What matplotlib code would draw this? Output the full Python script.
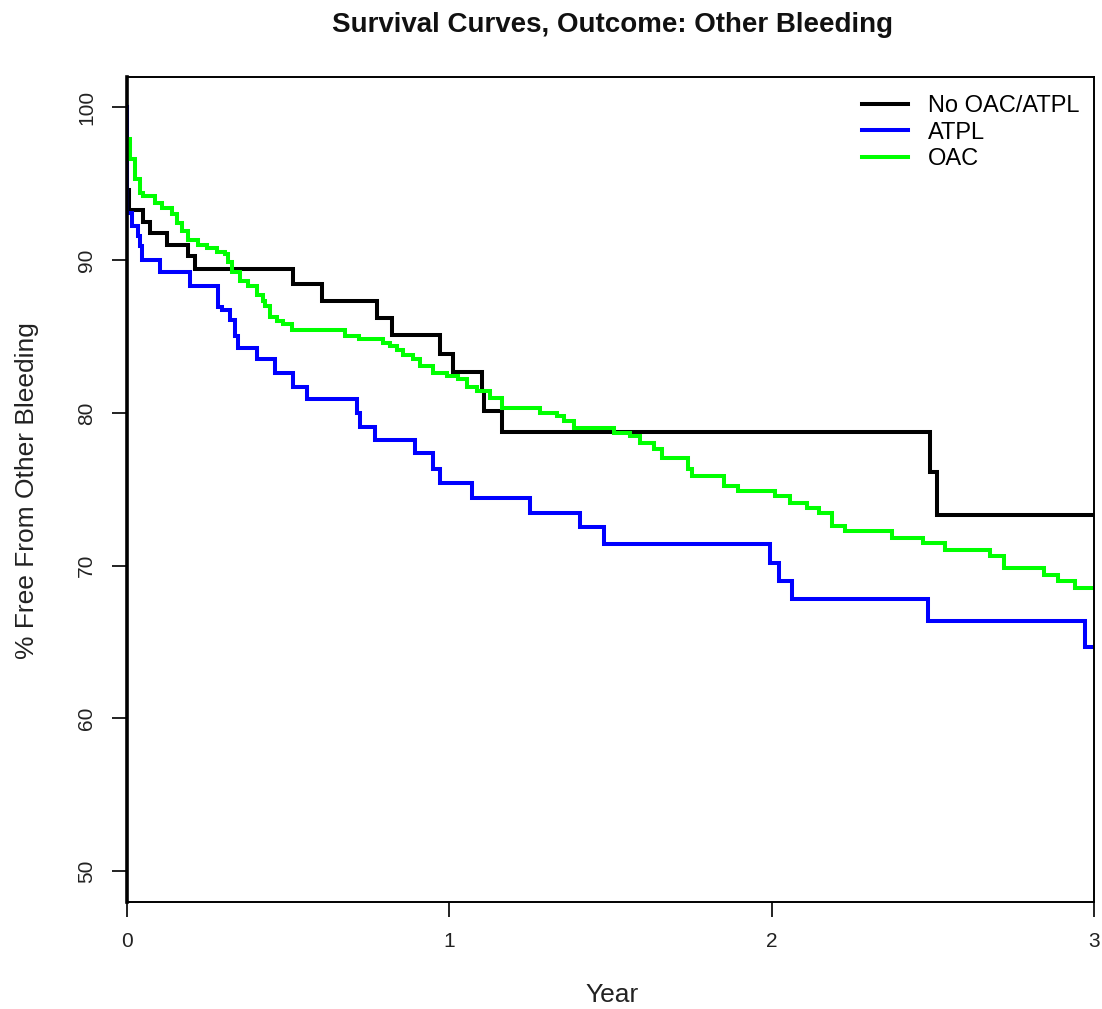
import numpy as np
import matplotlib
matplotlib.use("Agg")
import matplotlib.pyplot as plt

plt.rcParams['font.family'] = ['Liberation Sans', 'DejaVu Sans']

# step curves: time (years) and % free after each time
tNone = [0, 0.002, 0.006, 0.052, 0.072, 0.124, 0.191, 0.212, 0.517, 0.605, 0.776, 0.822,
         0.972, 1.013, 1.101, 1.108, 1.163, 2.490, 2.513, 3.0]
sNone = [100, 94.6, 93.3, 92.5, 91.8, 91.0, 90.25, 89.4, 88.4, 87.35, 86.2, 85.1,
         83.85, 82.65, 81.4, 80.1, 78.75, 76.1, 73.3, 73.3]

tAtpl = [0, 0.002, 0.016, 0.036, 0.041, 0.047, 0.103, 0.196, 0.284, 0.295, 0.320,
         0.336, 0.346, 0.403, 0.460, 0.517, 0.559, 0.714, 0.724, 0.770, 0.894,
         0.951, 0.972, 1.070, 1.251, 1.406, 1.479, 1.996, 2.022, 2.063, 2.485,
         2.973, 3.0]
sAtpl = [100, 93.1, 92.2, 91.6, 90.9, 90.0, 89.2, 88.3, 86.9, 86.7, 86.1,
         85.0, 84.25, 83.5, 82.6, 81.7, 80.9, 80.0, 79.1, 78.25, 77.4,
         76.3, 75.4, 74.4, 73.45, 72.5, 71.4, 70.2, 69.0, 67.8, 66.4,
         64.7, 64.7]

tOac = [0, 0.010, 0.025, 0.041, 0.052, 0.088, 0.110, 0.140, 0.155, 0.170,
        0.190, 0.220, 0.250, 0.280, 0.305, 0.315, 0.326, 0.352, 0.377, 0.403,
        0.424, 0.429, 0.445, 0.465, 0.486, 0.512, 0.677, 0.719, 0.796, 0.817,
        0.838, 0.858, 0.889, 0.910, 0.951, 0.993, 1.029, 1.055, 1.086, 1.127,
        1.163, 1.283, 1.334, 1.355, 1.386, 1.510, 1.562, 1.593, 1.634, 1.660,
        1.742, 1.753, 1.851, 1.897, 2.011, 2.058, 2.110, 2.146, 2.187, 2.229,
        2.374, 2.471, 2.539, 2.678, 2.720, 2.844, 2.890, 2.942, 3.0]
sOac = [97.9, 96.6, 95.3, 94.4, 94.2, 93.75, 93.4, 93.0, 92.4, 91.9,
        91.3, 91.0, 90.8, 90.5, 90.4, 89.9, 89.2, 88.6, 88.3, 87.7,
        87.3, 87.0, 86.3, 86.0, 85.8, 85.45, 85.0, 84.8, 84.6, 84.4,
        84.1, 83.8, 83.5, 83.05, 82.6, 82.4, 82.2, 81.7, 81.4, 81.0,
        80.3, 80.0, 79.8, 79.45, 79.0, 78.7, 78.5, 78.0, 77.6, 77.05,
        76.3, 75.85, 75.2, 74.9, 74.55, 74.1, 73.8, 73.45, 72.6, 72.25,
        71.8, 71.5, 71.05, 70.6, 69.85, 69.4, 69.0, 68.55, 68.55]

labels = ["No OAC/ATPL", "ATPL", "OAC"]
colours = ["#000000", "#0000FF", "#00FF00"]

fig = plt.figure(figsize=(11.02, 10.09), dpi=100)
ax = fig.add_axes([0.115, 0.1063, 0.8777, 0.8177])

for t, s, lab, col in zip([tNone, tAtpl, tOac], [sNone, sAtpl, sOac], labels, colours):
    ax.plot(t, s, drawstyle="steps-post", color=col, linewidth=2.9, label=lab,
            solid_joinstyle="miter")

ax.set_xlim(0, 3)
ax.set_ylim(48, 102)
ax.set_xticks([0, 1, 2, 3])
ax.set_yticks([50, 60, 70, 80, 90, 100])

for side in ["top", "right", "bottom"]:
    ax.spines[side].set_linewidth(1.4)
ax.spines["left"].set_linewidth(2.6)
for sp in ax.spines.values():
    sp.set_zorder(5)

ax.tick_params(axis="both", length=11, width=1.4, labelsize=15, colors="#222222")
ax.tick_params(axis="y", labelrotation=90, pad=11)
ax.tick_params(axis="x", pad=11)
for lbl in ax.get_yticklabels():
    lbl.set_va("center")

fig.text(612 / 1102, 1 - 25 / 1009, "Survival Curves, Outcome: Other Bleeding",
         ha="center", va="center", fontsize=20, fontweight="bold", color="#111111")
fig.text(612 / 1102, 1 - 995 / 1009, "Year", ha="center", va="center",
         fontsize=19, color="#222222")
fig.text(27 / 1102, 1 - 491 / 1009, "% Free From Other Bleeding", ha="center",
         va="center", rotation=90, fontsize=19, color="#222222")

ax.legend(loc="upper left", bbox_to_anchor=(862 / 1102, 1 - 95 / 1009),
          bbox_transform=fig.transFigure, frameon=False, fontsize=17,
          handlelength=1.95, handletextpad=0.85, labelspacing=0.2,
          borderpad=0, borderaxespad=0)

fig.savefig("out.png", dpi=100)
